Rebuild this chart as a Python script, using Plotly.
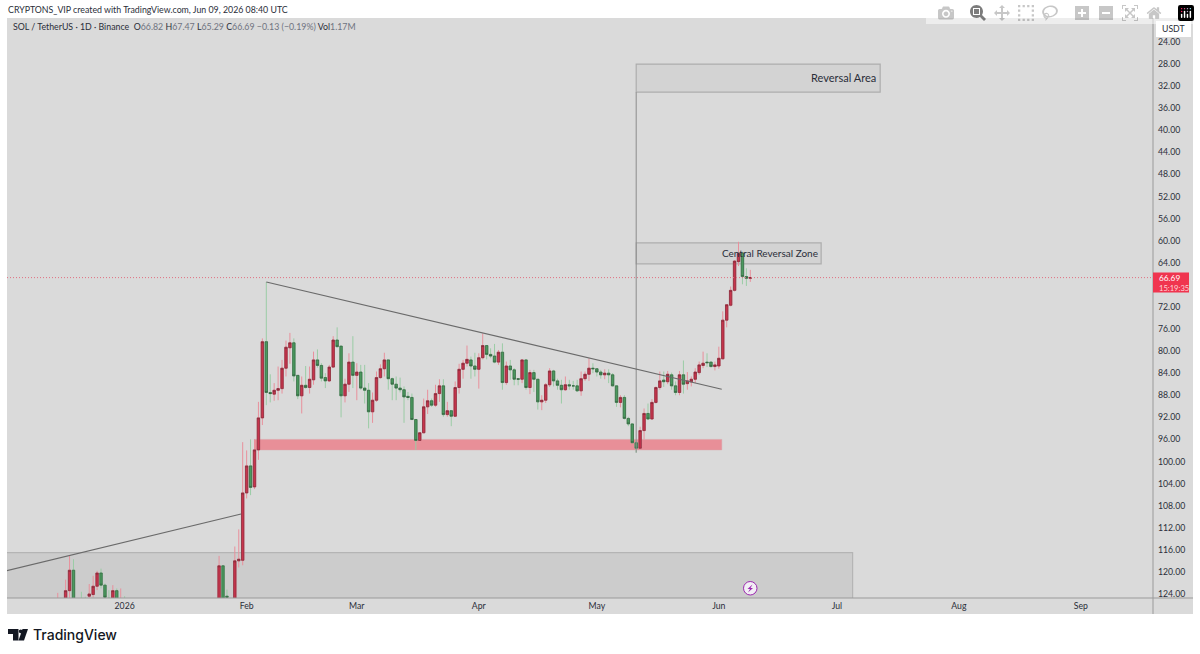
import pandas as pd
import plotly.graph_objects as go

# candles above the visible part of the scale are left out, the axis is inverted
dec_dates = ["2025-12-15", "2025-12-17", "2025-12-18", "2025-12-19", "2025-12-21", "2025-12-22", "2025-12-23", "2025-12-24",
             "2025-12-25", "2025-12-26", "2025-12-27", "2025-12-28", "2025-12-29", "2025-12-30", "2025-12-31", "2026-01-01"]
dec_open = [130, 126, 123.4, 119.7, 125, 125, 124.4, 124.1, 122.6, 120.2, 122.4, 124.8, 126, 123.4, 127, 125]
dec_high = [131, 128, 125, 127, 126, 126, 126, 124.6, 123.3, 123.0, 125, 126, 126.5, 126.5, 128, 127]
dec_low = [123.8, 121.4, 117.1, 117.7, 123.6, 124.5, 122.2, 120.7, 119.8, 119.4, 122.1, 123.3, 122.4, 123, 123, 124.4]
dec_close = [126, 123.4, 119.7, 126, 125.5, 125.4, 124.0, 122.6, 120.2, 122.4, 124.6, 125.5, 123.4, 126, 125, 126]

# daily candles 2026-01-25 .. 2026-06-09, one line per month
main_open = [126, 118.9, 124.4, 126, 126, 118, 117.9,
             105.7, 100.8, 104.6, 97.9, 92.1, 78.3, 87.5, 87.8, 87.1, 86.8, 83.1, 79.4, 78.5, 84.4, 88.1, 86.2, 86.6, 85.2, 81.6, 82.6, 84.8, 85.4, 82.9, 78.0, 79.1, 88.1, 86.0, 82.0,
             84.4, 83.8, 86.7, 87.1, 91.0, 88.9, 84.8, 83.2, 81.6, 85.0, 86.0, 86.7, 87.0, 88.2, 88.4, 92.4, 96.2, 94.8, 90.1, 89.0, 89.8, 87.7, 86.3, 91.5, 90.8, 91.8, 86.6, 83.3, 82.2, 81.6, 82.7,
             83.3, 81.2, 79.0, 80.6, 80.9, 82.0, 80.2, 85.7, 82.7, 83.4, 85.0, 85.1, 81.6, 86.6, 83.9, 85.1, 89.2, 88.9, 86.1, 83.6, 85.4, 86.2, 87.0, 86.1, 86.3, 86.3, 87.2, 85.0, 84.2, 83.1,
             83.2, 83.8, 84.3, 84.0, 84.3, 86.3, 89.3, 88.4, 92.2, 93.2, 96.6, 97.6, 94.4, 91.3, 92.3, 89.3, 86.6, 85.25, 85.55, 84.3, 86.3, 87.5, 84.3, 85.9, 85.55, 85.1, 83.9, 82.6, 82.0, 82.0, 82.8,
             82.7, 81.4, 74.4, 71.7, 69.0, 63.8, 62.3, 66.5, 66.82]
main_high = [127, 127, 125.5, 127, 127, 119.2, 118.8,
             106.7, 106.1, 105.0, 99.7, 93.4, 89.8, 89.3, 89.0, 88.9, 87.7, 84.6, 82.3, 85.5, 88.7, 91.3, 86.8, 87.7, 86.1, 83.0, 85.5, 86.7, 85.6, 83.0, 79.3, 92.0, 89.3, 87.4, 86.7,
             88.9, 87.0, 89.5, 94.0, 93.0, 89.2, 85.0, 84.6, 87.0, 88.9, 88.9, 87.5, 93.0, 88.9, 92.4, 97.9, 96.8, 94.9, 91.4, 90.1, 90.1, 89.2, 91.9, 91.9, 93.6, 91.9, 87.7, 85.0, 82.8, 85.0, 84.6,
             86.8, 81.5, 81.5, 81.3, 82.2, 82.5, 87.0, 86.1, 85.2, 86.2, 86.2, 85.8, 87.0, 87.8, 87.4, 90.6, 90.7, 89.4, 86.5, 86.4, 87.0, 89.5, 87.2, 87.0, 87.0, 87.4, 88.1, 85.4, 85.4, 84.0,
             84.6, 85.0, 85.1, 85.8, 86.4, 90.1, 90.2, 92.4, 93.6, 96.7, 98.4, 97.6, 96.0, 92.5, 92.4, 89.5, 87.0, 86.5, 86.0, 87.0, 88.0, 88.0, 87.7, 87.0, 86.4, 85.8, 84.3, 83.1, 82.9, 83.0, 83.5,
             83.2, 81.5, 75.7, 71.9, 69.2, 64.6, 67.9, 68.2, 67.47]
main_low = [117.1, 118.8, 123.2, 125, 115.4, 112.3, 96.5,
            98.0, 96.0, 96.0, 89.2, 77.7, 67.5, 84.2, 85.8, 82.8, 81.6, 78.1, 76.7, 77.7, 84.4, 84.6, 82.7, 82.8, 80.1, 79.7, 82.2, 84.0, 82.5, 77.3, 75.7, 79.1, 85.0, 80.4, 77.3,
            82.2, 82.5, 82.5, 85.8, 87.5, 83.7, 82.4, 80.3, 81.6, 84.8, 84.6, 84.8, 86.4, 87.4, 87.7, 92.3, 94.8, 88.6, 87.0, 88.6, 86.1, 85.1, 85.1, 89.2, 90.8, 85.5, 82.3, 81.6, 79.0, 81.0, 80.3,
            80.4, 76.8, 79.0, 79.5, 78.7, 79.8, 78.6, 81.9, 81.6, 83.1, 84.9, 81.5, 81.5, 83.4, 83.4, 85.1, 88.0, 85.8, 83.1, 83.4, 85.0, 85.2, 84.6, 85.2, 85.4, 85.2, 83.7, 83.7, 81.3, 82.2,
            83.1, 83.4, 83.3, 83.3, 84.0, 86.3, 88.0, 88.0, 91.9, 93.1, 96.1, 93.7, 90.4, 89.5, 88.7, 86.4, 83.7, 83.7, 83.6, 83.9, 85.5, 83.6, 81.7, 83.8, 84.6, 83.1, 81.9, 80.1, 80.4, 81.9, 81.9,
            79.2, 72.8, 71.6, 68.3, 63.5, 60.2, 62.0, 65.0, 65.29]
main_close = [118.9, 126, 124.6, 126.5, 118, 117.7, 105.7,
              100.8, 104.7, 97.9, 92.1, 78.3, 87.5, 87.7, 87.1, 86.8, 83.1, 79.3, 78.5, 84.5, 88.1, 86.2, 86.6, 85.1, 81.6, 82.6, 84.9, 85.4, 82.9, 78.0, 79.2, 88.1, 86.0, 82.0, 84.4,
              83.8, 86.7, 87.1, 91.0, 88.9, 84.8, 83.2, 81.6, 85.0, 86.0, 86.7, 87.0, 88.3, 88.4, 92.4, 96.2, 94.8, 90.1, 89.0, 89.8, 87.7, 86.3, 91.5, 90.8, 91.8, 86.6, 83.3, 82.2, 81.5, 82.7, 83.3,
              81.2, 79.0, 80.6, 80.9, 82.0, 80.2, 85.7, 82.7, 83.4, 85.1, 85.1, 81.6, 86.6, 83.9, 85.1, 89.2, 88.9, 86.1, 83.6, 85.4, 86.2, 87.0, 86.1, 86.3, 86.3, 87.2, 85.0, 84.2, 83.1, 83.2,
              83.8, 84.3, 84.0, 84.3, 86.3, 89.3, 88.4, 92.2, 93.2, 96.6, 97.6, 94.4, 91.3, 92.3, 89.3, 86.6, 85.4, 85.55, 84.2, 86.3, 87.5, 84.3, 86.0, 85.4, 85.1, 83.8, 82.5, 82.2, 82.1, 82.8, 82.5,
              81.3, 74.4, 71.6, 69.0, 63.7, 62.3, 66.5, 66.82, 66.69]

# 68.00 sits under the last price tag in the reference
price_ticks = [24, 28, 32, 36, 40, 44, 48, 52, 56, 60, 64, 72, 76, 80, 84, 88, 92, 96, 100, 104, 108, 112, 116, 120, 124]
month_ticks = ["2026-01-01", "2026-02-01", "2026-03-01", "2026-04-01", "2026-05-01", "2026-06-01", "2026-07-01", "2026-08-01", "2026-09-01"]
month_labels = ["2026", "Feb", "Mar", "Apr", "May", "Jun", "Jul", "Aug", "Sep"]
last_price = 66.69

dates = dec_dates + [d.strftime("%Y-%m-%d") for d in pd.date_range("2026-01-25", "2026-06-09")]
opens = dec_open + main_open
highs = dec_high + main_high
lows = dec_low + main_low
closes = dec_close + main_close

GREEN, RED = "#4a9a5e", "#c8344c"
GREEN_WICK, RED_WICK = "#9accA5", "#e8909c"
TEXT = "#2a2e39"
FONT = "Lato"

# plot area in page pixels, used for everything that sits outside the price scale
L, R, T, B = 7, 1153, 18, 598


def fx(px):
    return (px - L) / (R - L)


def fy(py):
    return (B - py) / (B - T)


def paper_path(points):
    return "M" + " L".join(f"{fx(x):.5f},{fy(y):.5f}" for x, y in points) + " Z"


fig = go.Figure()

# wicks in the light colour, then bodies with a dark outline on top
fig.add_trace(go.Candlestick(
    x=dates, open=opens, high=highs, low=lows, close=closes,
    increasing=dict(line=dict(color=GREEN_WICK, width=1), fillcolor=GREEN_WICK),
    decreasing=dict(line=dict(color=RED_WICK, width=1), fillcolor=RED_WICK),
    showlegend=False, hoverinfo="skip",
))
fig.add_trace(go.Candlestick(
    x=dates, open=opens, close=closes,
    high=[max(o, c) for o, c in zip(opens, closes)],
    low=[min(o, c) for o, c in zip(opens, closes)],
    increasing=dict(line=dict(color="#33603f", width=0.7), fillcolor=GREEN),
    decreasing=dict(line=dict(color="#7c2a38", width=0.7), fillcolor=RED),
    showlegend=False,
))

shapes = [
    # grey panel of the whole chart
    dict(type="rect", xref="paper", yref="paper", x0=0, x1=fx(1193), y0=fy(614), y1=1, layer="below",
         fillcolor="#dadada", line=dict(width=0)),
    # drawn zones
    dict(type="rect", x0="2025-11-20", x1="2026-07-05", y0=116.5, y1=130, layer="below",
         fillcolor="#cccccc", line=dict(color="#b4b4b4", width=1.2)),
    dict(type="rect", x0="2026-02-03", x1="2026-06-01 18:00", y0=96.0, y1=97.9, layer="below",
         fillcolor="#e88f98", line=dict(color="#dca0a6", width=0.5)),
    dict(type="rect", x0="2026-05-11", x1="2026-07-12", y0=28.0, y1=33.1, layer="below",
         fillcolor="#d3d3d3", line=dict(color="#adadad", width=1.2)),
    dict(type="rect", x0="2026-05-11", x1="2026-06-27", y0=60.4, y1=64.2, layer="below",
         fillcolor="#d3d3d3", line=dict(color="#adadad", width=1.2)),
    dict(type="line", x0="2026-05-11", x1="2026-05-11", y0=33.1, y1=98.4, line=dict(color="#8c8c8c", width=1)),
    # trend lines
    dict(type="line", x0="2026-02-06", x1="2026-06-01 18:00", y0=67.5, y1=86.9, line=dict(color="#6a6a6a", width=1.1)),
    dict(type="line", x0="2025-12-02", x1="2026-01-30 14:00", y0=119.8, y1=109.5, line=dict(color="#6a6a6a", width=1.1)),
    # last price line
    dict(type="line", xref="paper", x0=0, x1=1, y0=last_price, y1=last_price,
         line=dict(color="#e07080", width=1, dash="1px,2px")),
    # scale frame
    dict(type="line", xref="paper", yref="paper", x0=1, x1=1, y0=fy(614), y1=1, line=dict(color="#9a9a9a", width=1)),
    dict(type="line", xref="paper", yref="paper", x0=0, x1=fx(1193), y0=0, y1=0, line=dict(color="#9a9a9a", width=1)),
    # currency box and last price tag
    dict(type="rect", xref="paper", yref="paper", x0=fx(1156), x1=fx(1191), y0=fy(37), y1=fy(21),
         fillcolor="white", line=dict(width=0)),
    dict(type="rect", xref="paper", yref="paper", x0=1, x1=fx(1189), y0=fy(292.5), y1=fy(272.5),
         fillcolor="#f0354f", line=dict(width=0)),
    # lightning badge
    dict(type="circle", xref="paper", yref="paper", x0=fx(743.5), x1=fx(757), y0=fy(595), y1=fy(581.5),
         fillcolor="#f2eef5", line=dict(color="#9c27b0", width=1)),
    dict(type="path", xref="paper", yref="paper", fillcolor="#9c27b0", line=dict(width=0),
         path=paper_path([(752.5, 584.5), (747.5, 589), (750, 589), (748, 592.5), (753, 588), (750.5, 588)])),
    # logo mark
    dict(type="path", xref="paper", yref="paper", fillcolor="#131722", line=dict(width=0),
         path=paper_path([(8, 629), (18.5, 629), (18.5, 640.5), (13, 640.5), (13, 634), (8, 634)])),
    dict(type="path", xref="paper", yref="paper", fillcolor="#131722", line=dict(width=0),
         path=paper_path([(22.5, 629), (28, 629), (24, 640.5), (18.5, 640.5)])),
    dict(type="circle", xref="paper", yref="paper", fillcolor="#131722", line=dict(width=0),
         x0=fx(18.8), x1=fx(22.6), y0=fy(633.2), y1=fy(629.4)),
]


def note(text, px, py, size=9, color=TEXT, anchor="left", family=FONT, **kw):
    return dict(text=text, xref="paper", yref="paper", x=fx(px), y=fy(py), xanchor=anchor, yanchor="middle",
                showarrow=False, borderpad=0, font=dict(family=family, size=size, color=color, **kw))


val = "#6f7380"
legend = ("SOL / TetherUS · 1D · Binance  "
          f"O<span style='color:{val}'>66.82</span> H<span style='color:{val}'>67.47</span> "
          f"L<span style='color:{val}'>65.29</span> C<span style='color:{val}'>66.69</span> "
          f"<span style='color:{val}'>−0.13 (−0.19%)</span> Vol<span style='color:{val}'>1.17M</span>")

annotations = [
    note("CRYPTONS_VIP created with TradingView.com, Jun 09, 2026 08:40 UTC", 7, 9.5, size=8.8),
    note(legend, 12, 27, size=8.8),
    note("Reversal Area", 877, 77.5, size=11, anchor="right"),
    note("Central Reversal Zone", 818.5, 253.5, size=10, anchor="right"),
    note("USDT", 1173.5, 29, size=8.7, anchor="center"),
    note("66.69", 1158, 277.5, size=8.3, color="white"),
    note("15:19:35", 1158, 287.5, size=7.6, color="#ffd5da"),
    note("TradingView", 32, 634.5, size=14, color="#131722", family="Inter", weight=500),
]

fig.update_layout(
    width=1200, height=654,
    margin=dict(l=L, r=1200 - R, t=T, b=654 - B),
    paper_bgcolor="white", plot_bgcolor="rgba(0,0,0,0)",
    font=dict(family=FONT, size=9, color=TEXT),
    showlegend=False, boxgap=0.12,
    shapes=shapes, annotations=annotations,
    xaxis=dict(
        range=["2025-12-02 02:30", "2026-09-19 08:00"],
        tickvals=month_ticks, ticktext=month_labels, tickangle=0,
        showgrid=False, zeroline=False, showline=False, ticks="",
        rangeslider=dict(visible=False), tickfont=dict(size=8.7, color=TEXT), ticklabelstandoff=1,
    ),
    yaxis=dict(
        range=[124.73, 19.66], side="right",
        tickvals=price_ticks, tickformat=".2f",
        showgrid=False, zeroline=False, showline=False, ticks="",
        tickfont=dict(size=8.7, color=TEXT), ticklabelstandoff=4,
    ),
)

# the page has the browser's default body margin, drop it so the figure fills the window
fig.write_html("out.html", post_script="document.body.style.margin = '0';")
